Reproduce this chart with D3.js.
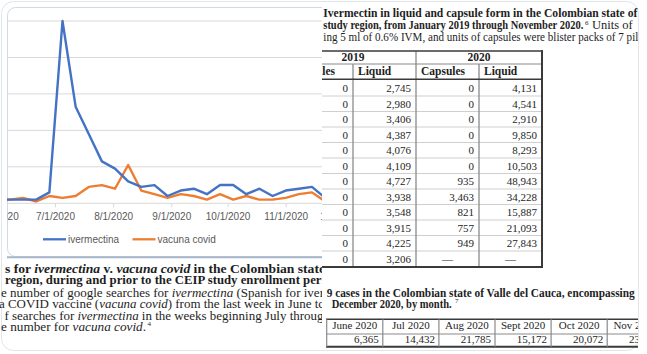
<!DOCTYPE html>
<html>
<head>
<meta charset="utf-8">
<script src="https://cdn.jsdelivr.net/npm/d3@7"></script>
<style>
  body { margin: 0; background: #fff; }
  svg { display: block; }
  .serif { font-family: "Liberation Serif", "Times New Roman", serif; fill: #1e1e1e; }
  .axis text, .legend text { font-family: "Liberation Sans", Arial, sans-serif; font-size: 10px; fill: #595959; }
</style>
</head>
<body>
<div id="chart"></div>
<script>
// Weekly google searches (relative index, peak = 100)
const weekStarts = ['2020-05-31','2020-06-07','2020-06-14','2020-06-21','2020-06-28','2020-07-05','2020-07-12',
  '2020-07-19','2020-07-26','2020-08-02','2020-08-09','2020-08-16','2020-08-23','2020-08-30','2020-09-06',
  '2020-09-13','2020-09-20','2020-09-27','2020-10-04','2020-10-11','2020-10-18','2020-10-25','2020-11-01',
  '2020-11-08','2020-11-15','2020-11-22'];
const ivermectina = [2, 2, 2, 2, 6, 100, 53, 38, 23, 19, 12, 9, 10, 4, 7, 8, 5, 10, 10, 5, 8, 4, 7, 8, 9, 3];
const vacunaCovid = [2, 2, 3, 1, 4, 3, 4, 9, 10, 8, 21, 7, 5, 3, 5, 4, 2, 5, 2, 4, 2, 2, 3, 5, 6, 1];
const monthTicks = ['2020-06-01','2020-07-01','2020-08-01','2020-09-01','2020-10-01','2020-11-01','2020-12-01'];
const gridValues = [0, 20, 40, 60, 80, 100];

// Ivermectin sales table (units per month row)
const salesColumns = ['Capsules 2019', 'Liquid 2019', 'Capsules 2020', 'Liquid 2020'];
const capsules2019 = [0, 0, 0, 0, 0, 0, 0, 0, 0, 0, 0, 0];
const liquid2019 = [2745, 2980, 3406, 4387, 4076, 4109, 4727, 3938, 3548, 3915, 4225, 3206];
const capsules2020 = [0, 0, 0, 0, 0, 0, 935, 3463, 821, 757, 949, null];
const liquid2020 = [4131, 4541, 2910, 9850, 8293, 10503, 48943, 34228, 15887, 21093, 27843, null];

// Monthly COVID-19 cases
const caseMonths = ['June 2020', 'Jul 2020', 'Aug 2020', 'Sept 2020', 'Oct 2020', 'Nov 2020'];
const caseCounts = [6365, 14432, 21785, 15172, 20072, 23530];

const width = 647, height = 354;
const fmt = d3.format(',');
const parse = d3.timeParse('%Y-%m-%d');

const svg = d3.select('#chart').append('svg')
  .attr('width', width)
  .attr('height', height);

const defs = svg.append('defs');
defs.append('clipPath').attr('id', 'clip-chart')
  .append('rect').attr('x', 7).attr('y', 7).attr('width', 315).attr('height', 250);
defs.append('clipPath').attr('id', 'clip-left')
  .append('rect').attr('x', 0).attr('y', 258).attr('width', 322).attr('height', 96);
defs.append('clipPath').attr('id', 'clip-right')
  .append('rect').attr('x', 322).attr('y', 0).attr('width', 316).attr('height', 354);

// card outline
svg.append('rect')
  .attr('x', 1.5).attr('y', 1.5)
  .attr('width', 637).attr('height', 349)
  .attr('rx', 12)
  .attr('fill', '#fff')
  .attr('stroke', '#e1e6ea');

// ---------- line chart ----------
const x = d3.scaleTime()
  .domain([parse('2020-07-01'), parse('2020-11-01')])
  .range([55, 285.7]);
const y = d3.scaleLinear().domain([0, 100]).range([203.3, 21]);

const chartG = svg.append('g').attr('clip-path', 'url(#clip-chart)');

chartG.append('rect')
  .attr('x', 7.5).attr('y', 7.5).attr('width', 330).attr('height', 249)
  .attr('rx', 8)
  .attr('fill', '#fff')
  .attr('stroke', '#d3d9e0');

chartG.append('g')
  .selectAll('line')
  .data(gridValues)
  .join('line')
  .attr('x1', 7).attr('x2', 322)
  .attr('y1', d => y(d)).attr('y2', d => y(d))
  .attr('stroke', '#d9d9d9')
  .attr('stroke-width', 1);

const axis = d3.axisBottom(x)
  .tickValues(monthTicks.map(parse))
  .tickFormat(d3.timeFormat('%-m/%-d/%Y'))
  .tickSize(4)
  .tickPadding(6);

const axisG = chartG.append('g')
  .attr('class', 'axis')
  .attr('transform', `translate(0,${y(0)})`)
  .call(axis);
axisG.select('.domain').remove();
axisG.selectAll('.tick line').attr('stroke', '#d9d9d9');

const series = [
  { name: 'ivermectina', values: ivermectina, color: '#4472c4' },
  { name: 'vacuna covid', values: vacunaCovid, color: '#ed7d31' }
];

const line = d3.line()
  .x((d, i) => x(parse(weekStarts[i])))
  .y(d => y(d));

chartG.selectAll('path.series')
  .data(series.slice().reverse())
  .join('path')
  .attr('class', 'series')
  .attr('d', d => line(d.values))
  .attr('fill', 'none')
  .attr('stroke', d => d.color)
  .attr('stroke-width', 2.4)
  .attr('stroke-linejoin', 'round');

// legend
const legend = svg.append('g').attr('class', 'legend');
const legendX = [43, 132.5];
series.forEach((s, i) => {
  legend.append('line')
    .attr('x1', legendX[i]).attr('x2', legendX[i] + 23)
    .attr('y1', 239.3).attr('y2', 239.3)
    .attr('stroke', s.color).attr('stroke-width', 2.3);
  legend.append('text')
    .attr('x', legendX[i] + 25).attr('y', 243)
    .text(s.name);
});

// bottom frame line of the chart image
svg.append('line')
  .attr('x1', 7).attr('x2', 322)
  .attr('y1', 257.3).attr('y2', 257.3)
  .attr('stroke', '#a8b6cb').attr('stroke-width', 2);

// ---------- caption under the chart ----------
function addLine(g, xPos, yPos, segs, size, len) {
  const t = g.append('text')
    .attr('class', 'serif')
    .attr('x', xPos).attr('y', yPos)
    .attr('font-size', size);
  segs.forEach(s => {
    t.append('tspan')
      .attr('font-weight', s.b ? 'bold' : null)
      .attr('font-style', s.i ? 'italic' : null)
      .text(s.t);
  });
  if (len) t.attr('textLength', len).attr('lengthAdjust', 'spacingAndGlyphs');
  return t;
}

const leftCap = svg.append('g').attr('clip-path', 'url(#clip-left)');
addLine(leftCap, 5, 272.7, [
  { t: 's for ', b: 1 }, { t: 'ivermectina', b: 1, i: 1 }, { t: ' v. ', b: 1 },
  { t: 'vacuna covid', b: 1, i: 1 }, { t: ' in the Colombian state', b: 1 }], 12, 320);
addLine(leftCap, 5, 284.3, [{ t: 'region, during and prior to the CEIP study enrollment peri', b: 1 }], 12, 320);
addLine(leftCap, 1, 296.7, [
  { t: 'e number of google searches for ' }, { t: 'ivermectina', i: 1 }, { t: ' (Spanish for iver' }], 12, 323);
addLine(leftCap, -1, 308.3, [
  { t: 'a COVID vaccine (' }, { t: 'vacuna covid', i: 1 }, { t: ') from the last week in June tc' }], 12, 325);
addLine(leftCap, 4.5, 319.6, [
  { t: 'f searches for ' }, { t: 'ivermectina', i: 1 }, { t: ' in the weeks beginning July throug' }], 12, 319);
addLine(leftCap, 1, 331, [{ t: 'e number for ' }, { t: 'vacuna covid', i: 1 }, { t: '.' }], 12, 145);
leftCap.append('text').attr('class', 'serif').attr('x', 147.5).attr('y', 326).attr('font-size', 7).text('4');

// ---------- right panel ----------
const right = svg.append('g').attr('clip-path', 'url(#clip-right)');

addLine(right, 323.3, 17, [{ t: 'Ivermectin in liquid and capsule form in the Colombian state of', b: 1 }], 12, 314);
addLine(right, 323.3, 29, [{ t: 'study region, from January 2019 through November 2020.', b: 1 }], 12, 260);
right.append('text').attr('class', 'serif').attr('x', 585).attr('y', 24.5).attr('font-size', 7).text('6');
addLine(right, 592, 29, [{ t: 'Units of' }], 12.5);
addLine(right, 323.3, 41, [{ t: 'ing 5 ml of 0.6% IVM, and units of capsules were blister packs of 7 pil' }], 12, 315);

// sales table
const col = d3.scaleBand().domain(salesColumns).range([290, 542]);
const rowIdx = liquid2019.map((d, i) => i);
const row = d3.scaleBand().domain(rowIdx).range([80.5, 266.5]);
const table = right.append('g');

// row separators
table.selectAll('line.rowsep')
  .data(rowIdx.slice(1))
  .join('line')
  .attr('class', 'rowsep')
  .attr('x1', 322).attr('x2', 542)
  .attr('y1', d => row(d)).attr('y2', d => row(d))
  .attr('stroke', '#cfcfcf').attr('stroke-width', 1);

// vertical rules
const vRules = [
  { x: col('Liquid 2019'), y1: 64 },
  { x: col('Capsules 2020'), y1: 51 },
  { x: col('Liquid 2020'), y1: 64 }
];
table.selectAll('line.vrule')
  .data(vRules)
  .join('line')
  .attr('class', 'vrule')
  .attr('x1', d => d.x).attr('x2', d => d.x)
  .attr('y1', d => d.y1).attr('y2', 266.7)
  .attr('stroke', '#8a8a8a').attr('stroke-width', 1.3);

// horizontal rules
table.append('line').attr('x1', 322).attr('x2', 543).attr('y1', 51).attr('y2', 51)
  .attr('stroke', '#3a3a3a').attr('stroke-width', 1.5);
table.append('line').attr('x1', 322).attr('x2', 542).attr('y1', 64).attr('y2', 64)
  .attr('stroke', '#8a8a8a').attr('stroke-width', 1);
table.append('line').attr('x1', 322).attr('x2', 542).attr('y1', 79.3).attr('y2', 79.3)
  .attr('stroke', '#3a3a3a').attr('stroke-width', 1.5);
table.append('line').attr('x1', 322).attr('x2', 543).attr('y1', 266.9).attr('y2', 266.9)
  .attr('stroke', '#3a3a3a').attr('stroke-width', 2);
table.append('line').attr('x1', 542).attr('x2', 542).attr('y1', 50.3).attr('y2', 267.8)
  .attr('stroke', '#3a3a3a').attr('stroke-width', 2);

// year headers
[['2019', 'Capsules 2019', 'Liquid 2019'], ['2020', 'Capsules 2020', 'Liquid 2020']].forEach(([yr, a, b]) => {
  table.append('text').attr('class', 'serif')
    .attr('x', (col(a) + col(b) + col.bandwidth()) / 2)
    .attr('y', 60.7)
    .attr('text-anchor', 'middle')
    .attr('font-size', 11.5).attr('font-weight', 'bold')
    .text(yr);
});
table.selectAll('text.colhead')
  .data(salesColumns)
  .join('text')
  .attr('class', 'serif colhead')
  .attr('x', d => col(d) + (d === 'Capsules 2019' ? 1 : 5))
  .attr('y', 75)
  .attr('font-size', 11.5).attr('font-weight', 'bold')
  .text(d => d.split(' ')[0]);

const salesData = [capsules2019, liquid2019, capsules2020, liquid2020];
salesColumns.forEach((c, ci) => {
  table.selectAll(null)
    .data(salesData[ci])
    .join('text')
    .attr('class', 'serif')
    .attr('x', d => d === null ? col(c) + col.bandwidth() / 2 : col(c) + col.bandwidth() - 5)
    .attr('y', (d, i) => row(i) + row.bandwidth() / 2 + 4)
    .attr('text-anchor', d => d === null ? 'middle' : 'end')
    .attr('font-size', 11)
    .attr('fill', d => d === null ? '#888' : null)
    .text(d => d === null ? '—' : fmt(d));
});

// second caption
addLine(right, 326.7, 297.3, [{ t: '9 cases in the Colombian state of Valle del Cauca, encompassing', b: 1 }], 12, 308);
addLine(right, 331.7, 308.3, [{ t: 'December 2020, by month.', b: 1 }], 12, 120);
right.append('text').attr('class', 'serif').attr('x', 455).attr('y', 303).attr('font-size', 7).attr('fill', '#666').text('7');

// cases table
const caseCol = d3.scaleBand().domain(caseMonths).range([326.7, 663.3]);
const cases = right.append('g');
cases.append('line').attr('x1', 326).attr('x2', 640).attr('y1', 319.3).attr('y2', 319.3)
  .attr('stroke', '#3a3a3a').attr('stroke-width', 1.6);
cases.append('line').attr('x1', 326.7).attr('x2', 640).attr('y1', 334).attr('y2', 334)
  .attr('stroke', '#8a8a8a').attr('stroke-width', 1);
cases.append('line').attr('x1', 326).attr('x2', 640).attr('y1', 346.7).attr('y2', 346.7)
  .attr('stroke', '#3a3a3a').attr('stroke-width', 2);
cases.selectAll('line.csep')
  .data(caseMonths)
  .join('line')
  .attr('class', 'csep')
  .attr('x1', d => caseCol(d)).attr('x2', d => caseCol(d))
  .attr('y1', 319.3).attr('y2', 346.7)
  .attr('stroke', '#8a8a8a').attr('stroke-width', 1.2);
cases.selectAll('text.chead')
  .data(caseMonths)
  .join('text')
  .attr('class', 'serif chead')
  .attr('x', d => caseCol(d) + caseCol.bandwidth() / 2)
  .attr('y', 329.3)
  .attr('text-anchor', 'middle')
  .attr('font-size', 11)
  .text(d => d);
cases.selectAll('text.cval')
  .data(caseCounts)
  .join('text')
  .attr('class', 'serif cval')
  .attr('x', (d, i) => caseCol(caseMonths[i]) + caseCol.bandwidth() - 4)
  .attr('y', 343.3)
  .attr('text-anchor', 'end')
  .attr('font-size', 11)
  .text(d => fmt(d));
</script>
</body>
</html>
